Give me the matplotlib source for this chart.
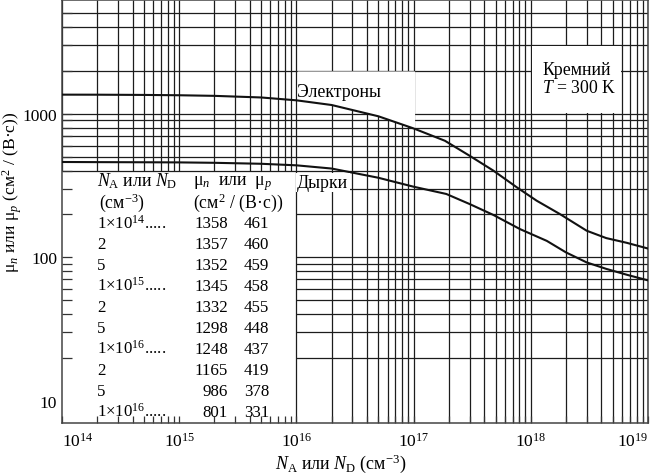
import matplotlib
matplotlib.use("Agg")
import matplotlib.pyplot as plt
import numpy as np
from matplotlib.patches import Rectangle
from matplotlib.ticker import FixedLocator, NullFormatter

plt.rcParams['font.family'] = ['Liberation Serif', 'DejaVu Serif']
plt.rcParams['mathtext.fontset'] = 'custom'
plt.rcParams['mathtext.rm'] = 'Liberation Serif'
plt.rcParams['mathtext.it'] = 'Liberation Serif:italic'
plt.rcParams['mathtext.bf'] = 'Liberation Serif:bold'

# ---- data ----
table_conc = ["1×10$^{14}$.....", "2", "5",
              "1×10$^{15}$.....", "2", "5",
              "1×10$^{16}$.....", "2", "5",
              "1×10$^{16}$....."]
table_mu_n = [1358, 1357, 1352, 1345, 1332, 1298, 1248, 1165, 986, 801]
table_mu_p = [461, 460, 459, 458, 455, 448, 437, 419, 378, 331]

N_e = [1e14, 2e14, 5e14, 1e15, 2e15, 5e15, 1e16, 2e16, 5e16, 1e17,
       1.85e17, 3e17, 4.8e17, 7.6e17, 1.12e18, 1.77e18, 3e18, 4.4e18, 6.6e18, 1e19]
mu_e = [1358, 1357, 1352, 1345, 1332, 1298, 1240, 1150, 960, 790,
        648, 510, 401, 307, 248, 200, 153, 136, 126, 115]
N_h = [1e14, 2e14, 5e14, 1e15, 2e15, 5e15, 1e16, 2e16, 5e16, 1e17,
       1.9e17, 3e17, 4.8e17, 8.1e17, 1.37e18, 2e18, 3e18, 4.4e18, 6.6e18, 1e19]
mu_h = [461, 460, 459, 458, 455, 448, 437, 415, 358, 310,
        276, 235, 197, 157, 130, 108, 92, 83, 75.5, 69]

x_decades = [14, 15, 16, 17, 18, 19]
y_major = [10, 100, 1000]
y_major_labels = ["10", "100", "1000"]

W, H = 654, 477
fig = plt.figure(figsize=(W / 100, H / 100), dpi=100)
ax = fig.add_axes([62 / W, 53 / H, 586 / W, 423 / H])
ax.set_xscale('log')
ax.set_yscale('log')
XMIN, XMAX, YMIN, YMAX = 1e14, 1e19, 7, 6200
ax.set_xlim(XMIN, XMAX)
ax.set_ylim(YMIN, YMAX)

TAB_X, TAB_Y = 1e16, 400  # table corner
gc = '#1c1c1c'
glw = 0.9
xs = [m * 10.0 ** k for k in x_decades[:-1] for m in range(1, 10)] + [10.0 ** x_decades[-1]]
ys = [m * 10.0 ** k for k in (1, 2, 3) for m in range(1, 10) if 20 <= m * 10.0 ** k <= 5000]
for x in xs:
    if x < TAB_X * 0.999:
        ax.vlines(x, TAB_Y, YMAX, color=gc, lw=glw, zorder=1)
    else:
        ax.vlines(x, YMIN, YMAX, color=gc, lw=glw, zorder=1)
for y in ys:
    if y < TAB_Y * 0.999:
        ax.hlines(y, TAB_X, XMAX, color=gc, lw=glw, zorder=1)
    else:
        ax.hlines(y, XMIN, XMAX, color=gc, lw=glw, zorder=1)

# white box behind "Кремний"
ax.add_patch(Rectangle((1e18 * 1.015, 1000 * 1.015), 6e18 / 1.015 - 1e18 * 1.015,
                       3000 / 1.015 - 1000 * 1.015, facecolor='white', edgecolor='none', zorder=1.5))
# white band behind "Электроны"
xf = np.logspace(np.log10(1.025e16), np.log10(1.03e17), 50)
yf = 10 ** np.interp(np.log10(xf), np.log10(N_e), np.log10(mu_e))
ax.fill_between(xf, yf, 2000 / 1.015, facecolor='white', edgecolor='none', zorder=1.5)

ax.plot(N_e, mu_e, color='#111111', lw=1.5, zorder=3)
ax.plot(N_h, mu_h, color='#111111', lw=1.5, zorder=3)

# ticks
ax.set_xticks([10.0 ** k for k in x_decades], [r'$10^{%d}$' % k for k in x_decades])
ax.xaxis.set_minor_locator(FixedLocator([x for x in xs if x not in [10.0 ** k for k in x_decades]]))
ax.xaxis.set_minor_formatter(NullFormatter())
ax.yaxis.set_major_locator(FixedLocator(y_major))
ax.set_yticklabels(y_major_labels)
ax.yaxis.set_minor_locator(FixedLocator([y for y in ys if y not in y_major]))
ax.yaxis.set_minor_formatter(NullFormatter())
ax.tick_params(axis='x', which='both', direction='in', length=5, width=0.9, color='#333',
               labelsize=12.5, pad=6.5)
ax.tick_params(axis='y', which='both', direction='in', length=7.5, width=0.9, color='#333',
               labelsize=12.5, pad=3.5)
ax.tick_params(top=False, right=False, which='both')
ax.yaxis.get_major_ticks()[0].tick1line.set_visible(False)
ax.get_xticklabels()[0].set_horizontalalignment('left')
ax.get_xticklabels()[-1].set_horizontalalignment('right')
for s in ax.spines.values():
    s.set_color('#444444')
    s.set_linewidth(1.1)

ax.set_xlabel(r'$N_{\mathrm{A}}$ или $N_{\mathrm{D}}$ (см$^{-3}$)', fontsize=13)
ax.xaxis.set_label_coords(0.476, -0.068)
ax.set_ylabel(r'μ$_n$ или μ$_p$ (см$^2$ / (В·с))', fontsize=12.6)
ax.yaxis.set_label_coords(-0.065, 0.548)


def pix(px, py):
    return px / W, 1 - py / H


fs = 12.8
fn = 12.2
fig.text(*pix(297, 97), 'Электроны', fontsize=fs, va='baseline', zorder=4)
fig.text(*pix(297, 188), 'Дырки', fontsize=fs, va='baseline', zorder=4,
         bbox=dict(facecolor='white', edgecolor='none', pad=1))
fig.text(*pix(542, 75), 'Кремний', fontsize=fs, va='baseline', zorder=4)
fig.text(*pix(542, 93), r'$T$ = 300 K', fontsize=fs, va='baseline', zorder=4)

# table
fig.text(*pix(97, 186), r'$N_{\mathrm{A}}$ или $N_{\mathrm{D}}$', fontsize=fs, va='baseline')
fig.text(*pix(99, 208), r'(см$^{-3}$)', fontsize=fs, va='baseline')
fig.text(*pix(193, 185), r'μ$_n$  или  μ$_p$', fontsize=fs, va='baseline')
fig.text(*pix(193, 208), r'(см$^2$ / (В·с))', fontsize=fs, va='baseline')
row0, dy = 228.5, 20.9
for i, (c, n, p) in enumerate(zip(table_conc, table_mu_n, table_mu_p)):
    yb = row0 + i * dy
    fig.text(*pix(97, yb), c, fontsize=fn, va='baseline')
    fig.text(*pix(228, yb), str(n), fontsize=fn, va='baseline', ha='right')
    fig.text(*pix(269, yb), str(p), fontsize=fn, va='baseline', ha='right')

fig.savefig('out.png', dpi=100)
